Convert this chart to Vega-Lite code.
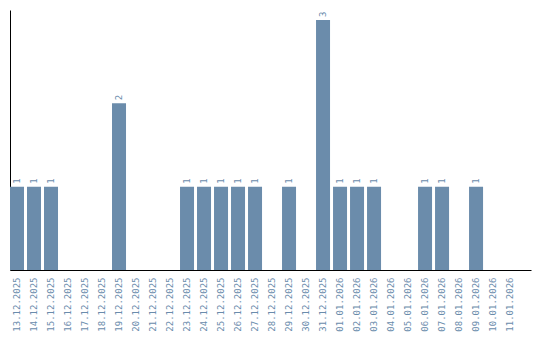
{
  "$schema": "https://vega.github.io/schema/vega-lite/v6.json",
  "autosize": "none",
  "width": 521,
  "height": 260,
  "padding": {"left": 10, "top": 10, "right": 9, "bottom": 70},
  "background": "white",
  "config": {"view": {"stroke": null}},
  "data": {"values": [
    {"date": "13.12.2025", "count": 1},
    {"date": "14.12.2025", "count": 1},
    {"date": "15.12.2025", "count": 1},
    {"date": "16.12.2025", "count": 0},
    {"date": "17.12.2025", "count": 0},
    {"date": "18.12.2025", "count": 0},
    {"date": "19.12.2025", "count": 2},
    {"date": "20.12.2025", "count": 0},
    {"date": "21.12.2025", "count": 0},
    {"date": "22.12.2025", "count": 0},
    {"date": "23.12.2025", "count": 1},
    {"date": "24.12.2025", "count": 1},
    {"date": "25.12.2025", "count": 1},
    {"date": "26.12.2025", "count": 1},
    {"date": "27.12.2025", "count": 1},
    {"date": "28.12.2025", "count": 0},
    {"date": "29.12.2025", "count": 1},
    {"date": "30.12.2025", "count": 0},
    {"date": "31.12.2025", "count": 3},
    {"date": "01.01.2026", "count": 1},
    {"date": "02.01.2026", "count": 1},
    {"date": "03.01.2026", "count": 1},
    {"date": "04.01.2026", "count": 0},
    {"date": "05.01.2026", "count": 0},
    {"date": "06.01.2026", "count": 1},
    {"date": "07.01.2026", "count": 1},
    {"date": "08.01.2026", "count": 0},
    {"date": "09.01.2026", "count": 1},
    {"date": "10.01.2026", "count": 0},
    {"date": "11.01.2026", "count": 0}
  ]},
  "encoding": {
    "x": {
      "field": "date", "type": "nominal", "sort": null,
      "scale": {"paddingInner": 0.176, "paddingOuter": 0.41, "align": 0},
      "axis": {
        "title": null, "ticks": false, "domainColor": "black", "domainWidth": 1,
        "labelAngle": -90, "labelFont": "DejaVu Sans Mono", "labelFontSize": 9,
        "labelColor": "#6a8cac", "labelPadding": 7
      }
    },
    "y": {
      "field": "count", "type": "quantitative",
      "scale": {"domain": [0, 3.12], "nice": false},
      "axis": {
        "title": null, "ticks": false, "labels": false, "grid": false,
        "domainColor": "black", "domainWidth": 1
      }
    }
  },
  "layer": [
    {"mark": {"type": "bar", "color": "#6b8cab"}},
    {
      "transform": [{"filter": "datum.count > 0"}],
      "mark": {
        "type": "text", "angle": -90, "align": "left", "baseline": "middle",
        "dx": 3, "font": "DejaVu Sans Mono", "fontSize": 9, "color": "#6a8cac"
      },
      "encoding": {"text": {"field": "count", "type": "quantitative"}}
    }
  ]
}
